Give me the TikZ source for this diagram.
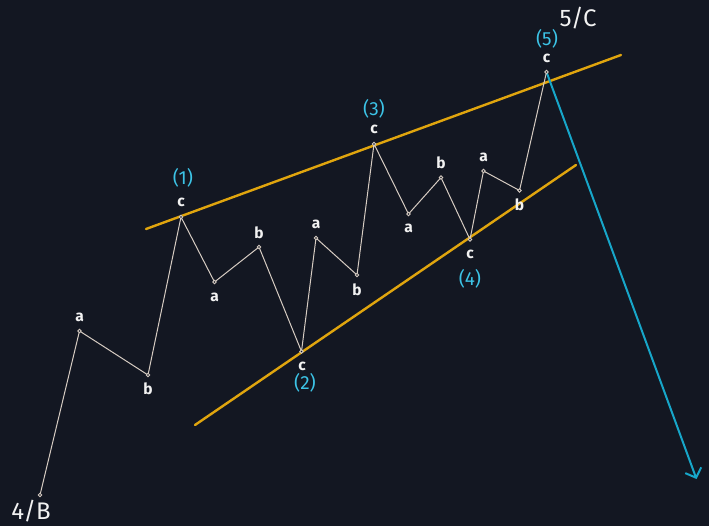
\documentclass[tikz,border=0pt]{standalone}
\usepackage{fontspec}
\setmainfont{Fira Sans}
\usetikzlibrary{arrows.meta}
\definecolor{bg}{HTML}{131722}
\definecolor{wave}{HTML}{D6CCC2}
\definecolor{chanc}{HTML}{E0A50E}
\definecolor{cyanl}{HTML}{3CC3E6}
\definecolor{arrc}{HTML}{17A6C9}
\definecolor{txt}{HTML}{F2F2F2}
\tikzset{
  wv/.style={draw=wave, line width=1pt, line join=round},
  chan/.style={draw=chanc, line width=2.4pt, line cap=round},
  dwn/.style={draw=arrc, line width=2pt, line cap=round, -{Straight Barb[length=8pt,width=17pt,line width=2pt]}},
  vdot/.style={draw=wave, fill=bg, line width=0.8pt},
  wl/.style={text=txt, font=\fontsize{15.5}{15.5}\selectfont\bfseries, inner sep=0pt},
  nl/.style={text=cyanl, font=\fontsize{19}{19}\selectfont, inner sep=0pt},
  bigl/.style={text=txt, font=\fontsize{24}{24}\selectfont, inner sep=0pt}
}
\begin{document}
\begin{tikzpicture}[x=1pt,y=-1pt]
\fill[bg] (0,0) rectangle (709,526);
\useasboundingbox (0,0) rectangle (709,526);
% channel
\coordinate (u1) at (146,229);
\coordinate (u2) at (621,55);
\coordinate (l1) at (195,425);
\coordinate (l2) at (576,165);
\draw[chan] (u1) -- (u2);
\draw[chan] (l1) -- (l2);
% wave vertices
\coordinate (s) at (40,495);
\coordinate (a0) at (79.5,331);
\coordinate (b0) at (148,375);
\coordinate (c1) at (181,217);
\coordinate (a1) at (214.5,282);
\coordinate (b1) at (259,247);
\coordinate (c2) at (301.5,351.5);
\coordinate (a2) at (316,238);
\coordinate (b2) at (357,275);
\coordinate (c3) at (374,144);
\coordinate (a3) at (408.5,214);
\coordinate (b3) at (441,177.5);
\coordinate (c4) at (470,239.5);
\coordinate (a4) at (483.5,171);
\coordinate (b4) at (519.5,190.5);
\coordinate (c5) at (546.5,72);
\coordinate (tip) at (696.5,479);
\draw[dwn] (c5) -- (tip);
\draw[wv] (s) -- (a0) -- (b0) -- (c1) -- (a1) -- (b1) -- (c2) -- (a2) -- (b2) -- (c3) -- (a3) -- (b3) -- (c4) -- (a4) -- (b4) -- (c5);
\foreach \p in {s,a0,b0,c1,a1,b1,c2,a2,b2,c3,a3,b3,c4,a4,b4,c5}
  \draw[vdot] (\p) circle (1.8);
% wave labels
\node[wl] (la0) at (79.5,317) {a};
\node[wl] (lb0) at (148,389) {b};
\node[wl] (lc1) at (181,202) {c};
\node[wl] (la1) at (214.5,297) {a};
\node[wl] (lb1) at (259,233) {b};
\node[wl] (lc2) at (302,366) {c};
\node[wl] (la2) at (316,224) {a};
\node[wl] (lb2) at (357,290) {b};
\node[wl] (lc3) at (374,129) {c};
\node[wl] (la3) at (408.5,228) {a};
\node[wl] (lb3) at (441,163) {b};
\node[wl] (lc4) at (470,254) {c};
\node[wl] (la4) at (483.5,157) {a};
\node[wl] (lb4) at (519.5,205) {b};
\node[wl] (lc5) at (546.5,58) {c};
% degree labels
\node[nl] (n1) at (183,178) {(1)};
\node[nl] (n2) at (305,383) {(2)};
\node[nl] (n3) at (374,109) {(3)};
\node[nl] (n4) at (470,279) {(4)};
\node[nl] (n5) at (547,39) {(5)};
\node[bigl] (nb) at (31,511) {4/B};
\node[bigl] (nc) at (578,18) {5/C};
\end{tikzpicture}
\end{document}
